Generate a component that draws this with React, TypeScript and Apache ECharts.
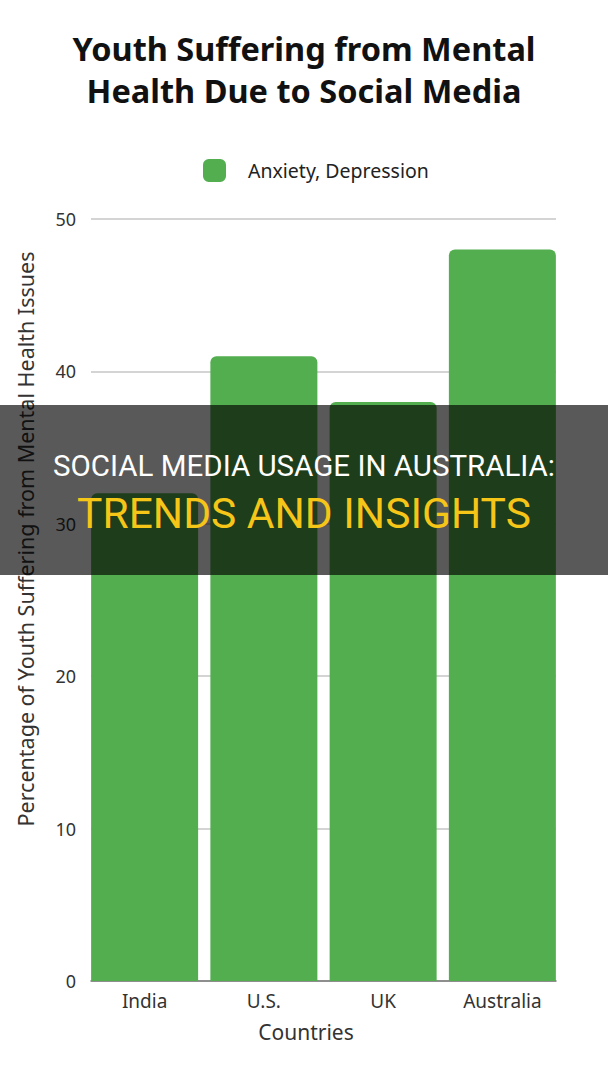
import React, { useEffect, useRef } from "react";
import * as echarts from "echarts";

const categories = ["India", "U.S.", "UK", "Australia"];
const values = [32, 41, 38, 48];
const seriesName = "Anxiety, Depression";
const yTicks = [0, 10, 20, 30, 40, 50];
const titleLines = ["Youth Suffering from Mental", "Health Due to Social Media"];
const yTitle = "Percentage of Youth Suffering from Mental Health Issues";
const xTitle = "Countries";
const overlayLine1 = "SOCIAL MEDIA USAGE IN AUSTRALIA:";
const overlayLine2 = "TRENDS AND INSIGHTS";

export default function App() {
  const ref = useRef<HTMLDivElement>(null);
  useEffect(() => {
    if (!ref.current) return;
    const chart = echarts.init(ref.current, null, { renderer: "svg" });
    const font = "'Noto Sans', sans-serif";
    const yMin = yTicks[0];
    const yMax = yTicks[yTicks.length - 1];
    chart.setOption({
      animation: false,
      backgroundColor: "#ffffff",
      title: {
        text: titleLines.join("\n"),
        left: "center",
        top: 22,
        textStyle: {
          fontFamily: font,
          fontSize: 32.5,
          fontWeight: "bold",
          color: "#111111",
          lineHeight: 42,
        },
      },
      legend: {
        left: 198,
        top: 154,
        itemWidth: 23,
        itemHeight: 23,
        icon: "roundRect",
        data: [seriesName],
        textStyle: {
          fontFamily: font,
          fontSize: 19.5,
          color: "#222222",
          padding: [0, 0, 0, 17],
        },
      },
      grid: [
        { left: 91, right: 52, top: 219, bottom: 99, containLabel: false },
        { left: 85, right: 46, top: 219, bottom: 99, containLabel: false },
      ],
      xAxis: [
        {
          type: "category",
          gridIndex: 0,
          data: categories,
          axisLine: { show: true, lineStyle: { color: "#777777", width: 1.5 } },
          axisTick: { show: false },
          axisLabel: { show: false },
          splitLine: { show: false },
        },
        {
          type: "category",
          gridIndex: 1,
          data: categories,
          axisLine: { show: false },
          axisTick: { show: false },
          axisLabel: { fontFamily: font, fontSize: 19, color: "#333333", margin: 10 },
        },
      ],
      yAxis: [
        {
          type: "value",
          gridIndex: 0,
          min: yMin,
          max: yMax,
          interval: 10,
          axisLine: { show: false },
          axisTick: { show: false },
          axisLabel: { fontFamily: font, fontSize: 18, color: "#333333", margin: 15 },
          splitLine: { lineStyle: { color: "#d4d4d4", width: 2 } },
        },
        {
          type: "value",
          gridIndex: 1,
          min: yMin,
          max: yMax,
          interval: 10,
          show: false,
          splitLine: { show: false },
        },
      ],
      series: [
        {
          type: "bar",
          name: seriesName,
          xAxisIndex: 1,
          yAxisIndex: 1,
          data: values,
          barCategoryGap: 12,
          barWidth: 107,
          itemStyle: { color: "#53ae4f", borderRadius: [6, 6, 0, 0] },
        },
      ],
      graphic: [
        {
          type: "text",
          x: 25,
          y: 539,
          rotation: Math.PI / 2,
          style: {
            text: yTitle,
            fill: "#333333",
            font: "21.5px 'Noto Sans', sans-serif",
            textAlign: "center",
            textVerticalAlign: "middle",
          },
        },
        {
          type: "text",
          x: 306,
          y: 1032,
          style: {
            text: xTitle,
            fill: "#333333",
            font: "21px 'Noto Sans', sans-serif",
            textAlign: "center",
            textVerticalAlign: "middle",
          },
        },
        {
          type: "rect",
          left: 0,
          top: 405,
          shape: { width: 608, height: 170 },
          style: { fill: "rgba(0,0,0,0.65)" },
          z: 100,
        },
        {
          type: "text",
          left: "center",
          top: 451,
          style: {
            text: overlayLine1,
            fill: "#ffffff",
            font: "29.5px Roboto, sans-serif",
          },
          z: 101,
        },
        {
          type: "text",
          left: "center",
          top: 492,
          style: {
            text: overlayLine2,
            fill: "#f5c518",
            font: "42.5px Roboto, sans-serif",
          },
          z: 101,
        },
      ],
    });
    return () => chart.dispose();
  }, []);
  return <div ref={ref} style={{ width: 608, height: 1080, position: "absolute", left: 0, top: 0 }} />;
}
